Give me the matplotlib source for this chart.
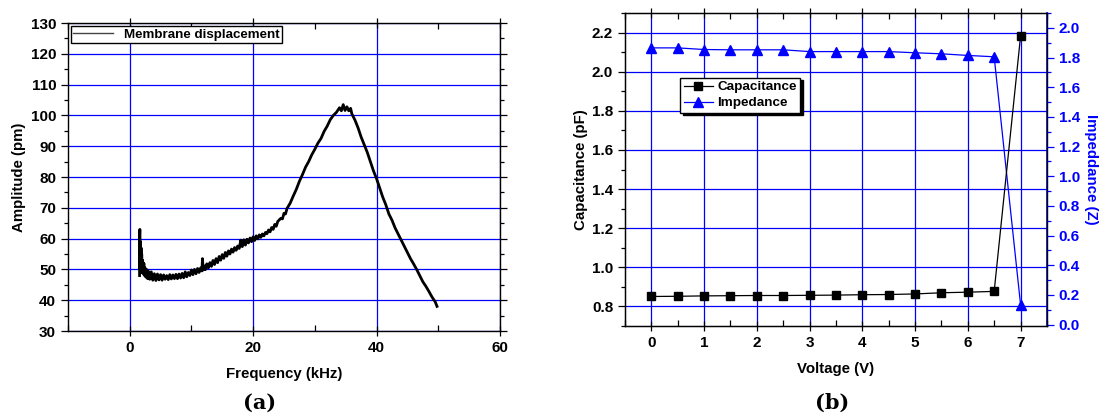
"""
Two-panel figure: (a) membrane displacement spectrum, (b) capacitance / impedance vs voltage.
"""

import matplotlib
matplotlib.use("Agg")
import matplotlib.pyplot as plt
from matplotlib.lines import Line2D
from matplotlib.ticker import MultipleLocator

plt.rcParams["font.family"] = ["Liberation Sans", "DejaVu Sans"]
plt.rcParams["font.weight"] = "bold"

# panel (a): values (kHz, pm)
freq_khz = [1.6, 1.62, 1.65, 1.7, 1.75, 1.8, 1.85, 1.9, 1.95, 2.0, 2.1, 2.2, 2.3, 2.4,
            2.5, 2.6, 2.75, 2.9, 3.0, 3.25, 3.5, 3.75, 4.0, 4.25, 4.5, 4.75, 5.0, 5.25,
            5.5, 5.75, 6.0, 6.25, 6.5, 6.75, 7.0, 7.25, 7.5, 7.75, 8.0, 8.25, 8.5, 8.75,
            9.0, 9.25, 9.5, 9.75, 10.0, 10.25, 10.5, 10.75, 11.0, 11.25, 11.5, 11.7,
            11.8, 11.9, 12.0, 12.25, 12.5, 12.75, 13.0, 13.25, 13.5, 13.75, 14.0, 14.25,
            14.5, 14.75, 15.0, 15.25, 15.5, 15.75, 16.0, 16.25, 16.5, 16.75, 17.0, 17.25,
            17.5, 17.75, 18.0, 18.25, 18.5, 18.75, 19.0, 19.25, 19.5, 19.75, 20.0, 20.25,
            20.5, 20.75, 21.0, 21.25, 21.5, 21.75, 22.0, 22.25, 22.5, 22.75, 23.0, 23.25,
            23.5, 23.75, 24.0, 24.5, 24.75, 25.0, 25.25, 25.5, 26.0, 26.5, 27.0, 27.5,
            28.0, 28.5, 29.0, 29.5, 30.0, 30.5, 31.0, 31.5, 32.0, 32.5, 33.0, 33.5,
            34.0, 34.3, 34.6, 34.9, 35.2, 35.5, 35.8, 36.0, 36.5, 37.0, 37.5, 38.0,
            38.5, 39.0, 39.5, 40.0, 40.5, 41.0, 41.5, 42.0, 42.5, 43.0, 43.5, 44.0,
            44.5, 45.0, 45.5, 46.0, 46.5, 47.0, 47.5, 48.0, 48.5, 49.0, 49.5, 49.8]
amp_pm = [48.0, 61.0, 63.0, 50.0, 59.0, 53.0, 57.0, 49.0, 55.0, 50.0, 53.0, 48.5, 52.0, 48.0,
          50.5, 47.5, 50.0, 47.0, 49.5, 46.8, 49.2, 46.5, 48.6, 46.4, 48.5, 46.6, 48.3, 46.5,
          48.2, 46.8, 48.0, 46.7, 48.3, 46.9, 48.2, 47.0, 48.4, 47.0, 48.5, 47.2, 48.7, 47.3,
          49.2, 47.6, 49.0, 48.0, 49.8, 48.3, 50.0, 48.6, 50.3, 49.0, 50.5, 49.5,
          53.5, 49.8, 51.2, 49.9, 51.8, 50.5, 52.2, 51.0, 52.9, 51.6, 53.5, 52.2,
          54.2, 53.0, 54.8, 53.6, 55.5, 54.3, 56.0, 55.0, 56.6, 55.6, 57.1, 56.2,
          57.6, 56.8, 59.5, 57.4, 59.6, 57.9, 59.8, 58.6, 60.2, 59.0, 60.6, 59.4,
          60.9, 59.9, 61.2, 60.4, 61.5, 60.9, 62.0, 61.6, 62.8, 62.2, 63.6, 63.0,
          64.6, 64.0, 65.6, 66.6, 66.4, 68.2, 68.0, 69.8, 71.5, 73.8, 76.0, 78.6,
          80.8, 83.2, 85.0, 87.2, 89.0, 91.0, 92.5, 94.8, 96.5, 98.6, 100.0, 101.0,
          102.5, 101.5, 103.5, 101.6, 102.8, 101.5, 102.3, 100.5, 98.5, 96.0, 93.0, 90.5,
          88.0, 85.0, 82.0, 79.5, 76.5, 73.5, 71.0, 68.0, 66.0, 63.5, 61.5, 59.5,
          57.5, 55.5, 53.5, 51.8, 50.0, 48.0, 46.0, 44.5, 42.8, 41.0, 39.5, 38.0]

# panel (b)
voltage = [0, 0.5, 1, 1.5, 2, 2.5, 3, 3.5, 4, 4.5, 5, 5.5, 6, 6.5, 7]
capacitance_pf = [0.851, 0.852, 0.854, 0.855, 0.856, 0.856, 0.857, 0.858, 0.860,
                  0.861, 0.864, 0.870, 0.873, 0.877, 2.181]
impedance = [1.865, 1.865, 1.854, 1.852, 1.852, 1.852, 1.840, 1.840, 1.840,
             1.840, 1.832, 1.825, 1.814, 1.805, 0.135]

BLUE = "#0000ff"
TICK_FS = 11
LABEL_FS = 10.8


def style_ticks(ax):
    ax.tick_params(which="both", labelsize=TICK_FS, width=0.9)
    ax.tick_params(axis="x", which="major", direction="inout", length=7, top=True)
    ax.tick_params(axis="x", which="minor", direction="in", length=4, top=True)
    ax.tick_params(axis="y", which="major", direction="out", length=5)
    ax.tick_params(axis="y", which="minor", direction="out", length=3)
    for s in ax.spines.values():
        s.set_linewidth(1.0)


def main():
    fig = plt.figure(figsize=(11.16, 4.16), dpi=100)

    # ---- (a) ----
    ax = fig.add_axes([0.0609, 0.2043, 0.3871, 0.7404])
    ax.plot(freq_khz, amp_pm, color="black", lw=2.0, zorder=3)
    ax.set_xlim(-10, 60)
    ax.set_ylim(30, 130)
    ax.xaxis.set_major_locator(MultipleLocator(20))
    ax.xaxis.set_minor_locator(MultipleLocator(10))
    ax.yaxis.set_major_locator(MultipleLocator(10))
    ax.yaxis.set_minor_locator(MultipleLocator(5))
    ax.grid(True, which="major", color=BLUE, lw=0.9)
    style_ticks(ax)
    ax.tick_params(axis="y", which="both", right=True)
    ax.set_xlabel("Frequency (kHz)", fontsize=LABEL_FS, fontweight="bold", labelpad=9)
    ax.set_ylabel("Amplitude (pm)", fontsize=LABEL_FS, fontweight="bold", labelpad=3)
    h = [Line2D([], [], color="#444444", lw=1.0)]
    ax.legend(h, ["Membrane displacement"], loc="upper left", fontsize=9.6,
              frameon=True, fancybox=False, edgecolor="black", framealpha=1,
              borderpad=0.15, handlelength=3.0, handletextpad=0.8,
              borderaxespad=0.25).get_frame().set_linewidth(1.0)
    fig.text(0.233, 0.018, "(a)", ha="center", fontsize=15,
             family=["DejaVu Serif"], fontweight="bold")

    # ---- (b) ----
    bx = fig.add_axes([0.5600, 0.2163, 0.3781, 0.7524])
    bx2 = bx.twinx()
    l1, = bx.plot(voltage, capacitance_pf, color="black", lw=0.9, marker="s",
                  ms=6, zorder=3)
    l2, = bx2.plot(voltage, impedance, color=BLUE, lw=0.9, marker="^",
                   ms=6.5, zorder=3)
    bx.set_xlim(-0.5, 7.5)
    bx.set_ylim(0.7, 2.3)
    bx2.set_ylim(-0.01, 2.1)
    bx.xaxis.set_major_locator(MultipleLocator(1))
    bx.xaxis.set_minor_locator(MultipleLocator(0.5))
    bx.yaxis.set_major_locator(MultipleLocator(0.2))
    bx.yaxis.set_minor_locator(MultipleLocator(0.1))
    bx2.yaxis.set_major_locator(MultipleLocator(0.2))
    bx2.yaxis.set_minor_locator(MultipleLocator(0.1))
    bx.grid(True, which="major", color=BLUE, lw=0.9)
    style_ticks(bx)
    bx2.tick_params(which="both", labelsize=TICK_FS, width=0.9, colors=BLUE)
    bx2.tick_params(which="major", direction="out", length=5)
    bx2.tick_params(which="minor", direction="out", length=3)
    bx2.spines["right"].set_color(BLUE)
    bx2.spines["right"].set_linewidth(1.2)
    for lab in bx2.get_yticklabels():
        lab.set_fontweight("bold")
    bx.set_xlabel("Voltage (V)", fontsize=LABEL_FS, fontweight="bold", labelpad=9)
    bx.set_ylabel("Capacitance (pF)", fontsize=LABEL_FS, fontweight="bold", labelpad=3)
    bx2.set_ylabel("Impeddance (Z)", fontsize=LABEL_FS, fontweight="bold", color=BLUE,
                   rotation=270, labelpad=13)
    leg = bx.legend([l1, l2], ["Capacitance", "Impedance"],
                    loc="upper left", bbox_to_anchor=(0.115, 0.815), fontsize=9.7,
                    frameon=True, fancybox=False, edgecolor="black", framealpha=1,
                    shadow={"color": "black", "alpha": 1}, borderpad=0.25,
                    labelspacing=0.25, handlelength=2.2, handletextpad=0.3)
    leg.get_frame().set_linewidth(1.0)
    bx.set_zorder(bx2.get_zorder() + 1)
    bx.patch.set_visible(False)
    leg.set_zorder(10)
    fig.text(0.746, 0.018, "(b)", ha="center", fontsize=15,
             family=["DejaVu Serif"], fontweight="bold")

    fig.savefig("out.png", dpi=100)
    print("saved out.png")


if __name__ == "__main__":
    main()
